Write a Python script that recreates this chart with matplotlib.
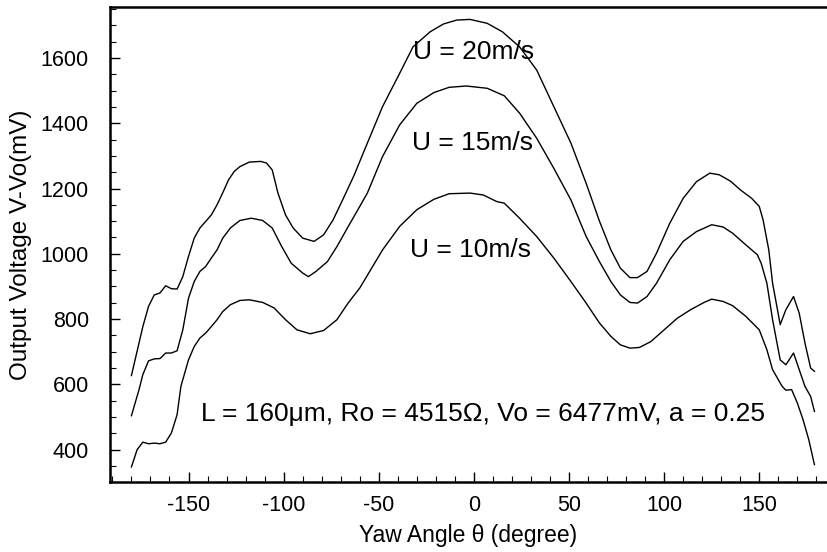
import matplotlib
matplotlib.use("Agg")
import matplotlib.pyplot as plt
from matplotlib.ticker import MultipleLocator

plt.rcParams['font.family'] = ['Liberation Sans', 'DejaVu Sans']
plt.rcParams['axes.unicode_minus'] = False

# ---- data ----
angle_20 = [-180, -174, -171, -168, -165, -162, -159, -156, -153, -150,
            -147, -144, -141, -138, -135, -132, -129, -126, -123, -118,
            -112, -109, -106, -103, -99, -95, -90, -84, -79, -74,
            -69, -63, -56, -48, -39, -32, -23, -16, -9, -2,
            7, 15, 24, 33, 42, 51, 59, 66, 72, 77,
            82, 86, 91, 96, 103, 110, 117, 124, 129, 135,
            140, 146, 150, 152, 155, 157, 161, 164, 168, 171,
            174, 177, 179]
volt_20 = [627, 777, 839, 874, 880, 902, 893, 892, 930, 992,
           1048, 1079, 1099, 1119, 1150, 1187, 1226, 1252, 1267, 1281,
           1283, 1278, 1257, 1186, 1119, 1079, 1048, 1038, 1058, 1104,
           1165, 1240, 1339, 1451, 1553, 1634, 1680, 1704, 1716, 1718,
           1706, 1680, 1634, 1563, 1451, 1339, 1216, 1100, 1012, 956,
           927, 927, 946, 1002, 1094, 1170, 1221, 1247, 1242, 1222,
           1196, 1170, 1145, 1104, 1012, 910, 783, 829, 869, 818,
           727, 650, 640]

angle_15 = [-180, -176, -174, -171, -168, -165, -162, -159, -156, -153,
            -150, -147, -144, -141, -138, -135, -132, -128, -123, -117,
            -111, -106, -101, -96, -90, -87, -83, -77, -72, -66,
            -60, -56, -48, -39, -30, -21, -13, -4, 7, 16,
            24, 33, 42, 51, 59, 66, 72, 77, 82, 86,
            91, 96, 103, 110, 117, 125, 131, 136, 143, 149,
            151, 154, 157, 161, 164, 168, 171, 174, 177, 179]
volt_15 = [504, 584, 630, 672, 678, 679, 696, 696, 703, 767,
           864, 915, 946, 961, 987, 1012, 1048, 1079, 1102, 1109,
           1102, 1079, 1022, 971, 941, 930, 946, 976, 1022, 1084,
           1145, 1186, 1298, 1395, 1461, 1494, 1510, 1514, 1507, 1484,
           1431, 1354, 1262, 1165, 1053, 976, 915, 874, 851, 849,
           869, 910, 982, 1038, 1068, 1089, 1082, 1063, 1027, 997,
           971, 910, 798, 675, 660, 696, 645, 594, 563, 517]

angle_10 = [-180, -177, -174, -171, -168, -165, -162, -159, -156, -154,
            -150, -147, -144, -141, -138, -135, -132, -128, -123, -118,
            -111, -105, -99, -93, -86, -79, -72, -66, -60, -48,
            -39, -30, -21, -13, -2, 5, 12, 16, 24, 33,
            42, 51, 59, 66, 72, 77, 82, 87, 93, 100,
            107, 114, 121, 125, 131, 136, 143, 150, 154, 157,
            162, 164, 167, 170, 173, 176, 179]
volt_10 = [347, 400, 423, 418, 420, 418, 423, 451, 507, 594,
           675, 716, 742, 757, 777, 798, 823, 844, 857, 859,
           851, 834, 798, 767, 755, 765, 798, 850, 895, 1012,
           1084, 1135, 1167, 1184, 1186, 1180, 1160, 1155, 1109, 1053,
           987, 915, 849, 788, 747, 721, 711, 713, 731, 767,
           803, 829, 851, 861, 854, 841, 808, 767, 706, 645,
           594, 582, 584, 543, 492, 431, 354]

series_labels = ["U = 20m/s", "U = 15m/s", "U = 10m/s"]
label_pos = [(0, 1597), (-0.7, 1318), (-2, 991)]
note_text = "L = 160\u03bcm, Ro = 4515\u03a9, Vo = 6477mV, a = 0.25"

x_ticks = [-150, -100, -50, 0, 50, 100, 150]
y_ticks = [400, 600, 800, 1000, 1200, 1400, 1600]

# ---- figure ----
fig = plt.figure(figsize=(8.27, 5.52), dpi=100)
ax = fig.add_axes([0.1327, 0.1263, 0.8673, 0.861])

for a, v in [(angle_20, volt_20), (angle_15, volt_15), (angle_10, volt_10)]:
    ax.plot(a, v, color='black', lw=1.0)

for txt, (xx, yy) in zip(series_labels, label_pos):
    ax.text(xx, yy, txt, ha='center', va='baseline', fontsize=19)
ax.text(4.8, 489, note_text, ha='center', va='baseline', fontsize=19)

ax.set_xlim(-191.4, 185.6)
ax.set_ylim(300, 1756)
ax.set_xticks(x_ticks)
ax.set_yticks(y_ticks)
ax.xaxis.set_minor_locator(MultipleLocator(10))
ax.yaxis.set_minor_locator(MultipleLocator(50))

ax.tick_params(which='both', direction='in', top=False, right=False, labelsize=15.5)
ax.tick_params(axis='x', which='major', length=7, width=1, pad=9)
ax.tick_params(axis='y', which='major', length=7, width=1, pad=15)
ax.tick_params(which='minor', length=4, width=0.8)

for s in ['left', 'bottom', 'top']:
    ax.spines[s].set_linewidth(1.8)
ax.spines['right'].set_visible(False)

ax.set_xlabel("Yaw Angle \u03b8 (degree)", fontsize=16.5, labelpad=6)
ax.set_ylabel("Output Voltage V-Vo(mV)", fontsize=17.5, labelpad=6)

fig.savefig("out.png", dpi=100)
